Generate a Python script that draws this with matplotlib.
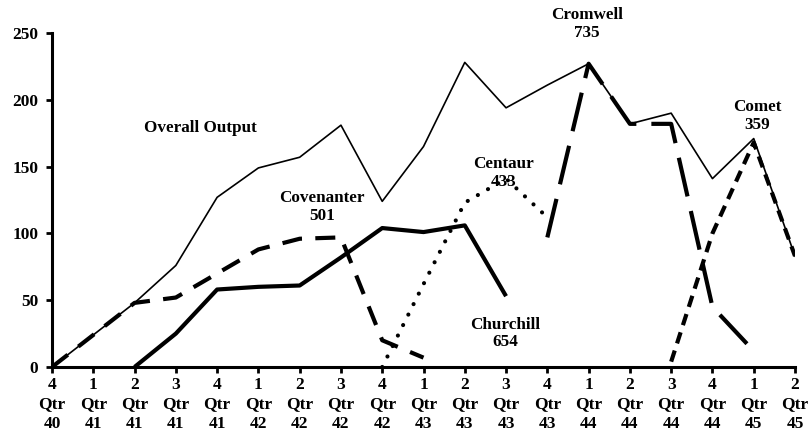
import matplotlib
matplotlib.use("Agg")
import matplotlib.pyplot as plt
import numpy as np

quarters = ["4\nQtr\n40", "1\nQtr\n41", "2\nQtr\n41", "3\nQtr\n41", "4\nQtr\n41",
            "1\nQtr\n42", "2\nQtr\n42", "3\nQtr\n42", "4\nQtr\n42", "1\nQtr\n43",
            "2\nQtr\n43", "3\nQtr\n43", "4\nQtr\n43", "1\nQtr\n44", "2\nQtr\n44",
            "3\nQtr\n44", "4\nQtr\n44", "1\nQtr\n45", "2\nQtr\n45"]

nan = np.nan
overall    = [0, 24, 48, 76, 127, 149, 157, 181, 124, 165, 228, 194, 211, 227, 182, 190, 141, 171, 83]
covenanter = [0, 24, 48, 52, 70, 88, 96, 97, 20, 7, nan, nan, nan, nan, nan, nan, nan, nan, nan]
churchill  = [nan, nan, 0, 25, 58, 60, 61, 82, 104, 101, 106, 53, nan, nan, nan, nan, nan, nan, nan]
centaur    = [nan, nan, nan, nan, nan, nan, nan, nan, 0, 62, 123, 141, 112, nan, nan, nan, nan, nan, nan]
cromwell   = [nan, nan, nan, nan, nan, nan, nan, nan, nan, nan, nan, nan, 97, 227, 182, 182, 45, 12, nan]
comet      = [nan, nan, nan, nan, nan, nan, nan, nan, nan, nan, nan, nan, nan, nan, nan, 4, 100, 168, 83]

plt.rcParams['font.family'] = ['Liberation Serif', 'DejaVu Serif']
plt.rcParams['font.weight'] = 'bold'

fig = plt.figure(figsize=(8.1, 4.41), dpi=100)
ax = fig.add_axes([52/810, 1-367/441, (795-52)/810, (367-33)/441])

x = np.arange(len(quarters))
ax.plot(x, overall, color='black', lw=1.2, zorder=3)
ax.plot(x, churchill, color='black', lw=3.0, solid_capstyle='butt', zorder=4)
ax.plot(x, covenanter, color='black', lw=3.0, dashes=(4.8, 3.2), zorder=4)
ax.plot(x, centaur, color='black', lw=3.0, dashes=(0.01, 2.8), dash_capstyle='round', zorder=4)
ax.plot(x, cromwell, color='black', lw=3.0, dashes=(9.5, 3.6), zorder=4)
ax.plot(x, comet, color='black', lw=3.0, dashes=(2.8, 1.8), zorder=5)

ax.set_xlim(0, 18)
ax.set_ylim(0, 250)
ax.set_yticks([0, 50, 100, 150, 200, 250])
ax.set_xticks(x)
ax.set_xticklabels(quarters, linespacing=1.3)
for s in ['top', 'right']:
    ax.spines[s].set_visible(False)
for s in ['left', 'bottom']:
    ax.spines[s].set_linewidth(2.2)
ax.tick_params(axis='both', direction='out', length=4, width=2, labelsize=12.5)
ax.tick_params(axis='x', pad=3)
ax.tick_params(axis='y', pad=6)

fs = 12.3
ax.text(3.6, 179, "Overall Output", ha='center', va='center', fontsize=fs, fontweight='bold')
ax.text(6.54, 120, "Covenanter\n501", ha='center', va='center', fontsize=fs, fontweight='bold', linespacing=1.15)
ax.text(10.95, 145, "Centaur\n433", ha='center', va='center', fontsize=fs, fontweight='bold', linespacing=1.15)
ax.text(10.97, 25, "Churchill\n654", ha='center', va='center', fontsize=fs, fontweight='bold', linespacing=1.15)
ax.text(12.96, 257, "Cromwell\n735", ha='center', va='center', fontsize=fs, fontweight='bold', linespacing=1.15, clip_on=False)
ax.text(17.08, 188, "Comet\n359", ha='center', va='center', fontsize=fs, fontweight='bold', linespacing=1.15)

fig.savefig("out.png", dpi=100)
